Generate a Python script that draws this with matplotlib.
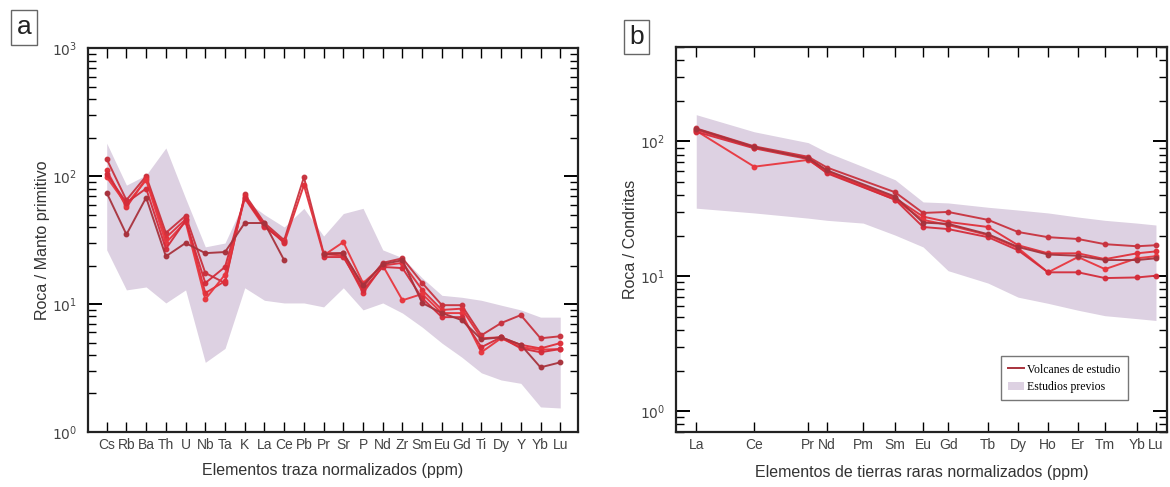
import numpy as np
import matplotlib
matplotlib.use("Agg")
import matplotlib.pyplot as plt
from matplotlib.lines import Line2D
from matplotlib.patches import Patch

plt.rcParams['font.family'] = ['Liberation Sans', 'DejaVu Sans']

# ---------------------------------------------------------------
# Panel a: elementos traza (normalizado a manto primitivo)
# ---------------------------------------------------------------
trace_el = ['Cs', 'Rb', 'Ba', 'Th', 'U', 'Nb', 'Ta', 'K', 'La', 'Ce', 'Pb', 'Pr',
            'Sr', 'P', 'Nd', 'Zr', 'Sm', 'Eu', 'Gd', 'Ti', 'Dy', 'Y', 'Yb', 'Lu']
nan = np.nan
trace_s1 = [136, 65, 100, 36, 49, 17.5, 14.6, 72, 43, 31.6, 98, 25, 25, 13.6, 21, 22.8,
            14.6, 9.8, 9.8, 5.7, 7.1, 8.2, 5.4, 5.6]
trace_s2 = [111, 57, 96, 33, 46, 12.2, 15.1, 70, 41.5, 30, 85, 24.5, 24, 12.2, 20, 21,
            12.9, 9.0, 9.2, 5.4, 5.5, 4.8, 4.5, 4.95]
trace_s3 = [98, 60, 93, 30, 44, 10.9, 17, 67, 40, 31, nan, 24, 30.5, 14.6, 20, 10.7,
            12.0, 8.5, 8.5, 4.2, 5.4, 4.6, 4.4, 4.45]
trace_s4 = [104, 62, 80, 27, 45, 14.6, 19.5, 68, 41, 30.5, nan, 23.3, 23.3, 12.9, 19.5, 19.1,
            11.1, 7.9, 7.9, 4.6, 5.5, 4.5, 4.2, 4.45]
trace_s5 = [74, 35, 68, 23.6, 30, 25, 25.5, 43, 43, 22, nan, 24.5, 25, 14, 20.5, 22,
            10.2, 8.5, 7.5, 5.3, 5.5, 4.8, 3.2, 3.5]
trace_env_hi = [181, 85, 102, 166, 67, 28, 30, 65, 50, 40, 56, 34, 51, 56, 26.5, 23,
                16, 11.7, 11.3, 10.7, 9.8, 9.0, 7.9, 7.9]
trace_env_lo = [26.5, 12.9, 13.6, 10.2, 12.9, 3.5, 4.5, 13.4, 10.7, 10.2, 10.2, 9.5,
                13.4, 9.0, 10.2, 8.5, 6.6, 4.95, 3.85, 2.9, 2.55, 2.4, 1.57, 1.54]

# ---------------------------------------------------------------
# Panel b: tierras raras (normalizado a condritas)
# ---------------------------------------------------------------
ree_el = ['La', 'Ce', 'Pr', 'Nd', 'Pm', 'Sm', 'Eu', 'Gd', 'Tb', 'Dy', 'Ho', 'Er', 'Tm', 'Yb', 'Lu']
ree_pos = [0, 5.8, 11.2, 13.1, 16.7, 19.9, 22.7, 25.2, 29.2, 32.2, 35.2, 38.2, 40.9, 44.1, 46.0]
ree_s1 = [125, 92, 77, 64, nan, 42, 29.5, 30, 26.2, 21.3, 19.5, 18.9, 17.3, 16.7, 17]
ree_s2 = [122, 90, 76, 60, nan, 38, 27.7, 25.3, 23.2, 17, 14.8, 14.8, 13.4, 14.8, 15.3]
ree_s3 = [120, 65, 73, 59, nan, 37, 26.2, 24, 20.2, 16.2, 10.7, 13.9, 11.3, 13.6, 14.1]
ree_s4 = [118, 89, 74, 58, nan, 37, 23.2, 22.4, 19.5, 15.6, 10.7, 10.7, 9.7, 9.8, 10.1]
ree_s5 = [124, 91, 75, 61, nan, 39, 25, 24.5, 20.5, 16.5, 14.5, 14.2, 13.2, 13.2, 13.6]
ree_env_hi = [158, 118, 98, 83, 65, 52, 35.6, 35, 32.5, 31, 29.5, 27.5, 26, 24.8, 24]
ree_env_lo = [32, 29.5, 27, 26, 24.8, 20.2, 16.5, 11, 8.9, 7, 6.3, 5.6, 5.1, 4.85, 4.7]

line_colors = ['#c8323e', '#e0303a', '#e8363e', '#d42c3a', '#a8323c']
env_color = '#ddd1e2'
tick_col = '#444444'


def style_axis(ax, xpos, labels, xlim, ylim):
    ax.set_yscale('log')
    ax.set_xlim(*xlim)
    ax.set_ylim(*ylim)
    ax.set_xticks(xpos)
    ax.set_xticklabels(labels, fontsize=10, color=tick_col)
    ax.tick_params(axis='x', which='both', direction='in', top=True, bottom=True,
                   length=7, width=1.0, pad=4)
    ax.tick_params(axis='y', which='major', direction='in', left=True, right=True,
                   length=10, width=1.4, labelsize=10, labelcolor=tick_col, pad=8)
    ax.tick_params(axis='y', which='minor', direction='in', left=True, right=True,
                   length=6, width=1.0)
    for s in ax.spines.values():
        s.set_linewidth(1.6)
        s.set_color('#222222')


fig = plt.figure(figsize=(11.7, 4.87), dpi=100)

# ---- panel a ----
ax1 = fig.add_axes([0.0752, 0.113, 0.4188, 0.788])
xa = np.arange(len(trace_el))
ax1.fill_between(xa, trace_env_lo, trace_env_hi, color=env_color, lw=0, zorder=1)
for vals, c in zip([trace_s1, trace_s2, trace_s3, trace_s4, trace_s5], line_colors):
    ax1.plot(xa, vals, color=c, lw=1.4, marker='o', ms=3.2, mec=c, mfc=c, zorder=3, alpha=0.95)
style_axis(ax1, xa, trace_el, (-0.95, 23.9), (1, 1000))
ax1.set_yticks([1, 10, 100, 1000])
ax1.set_yticklabels([r'$10^{0}$', r'$10^{1}$', r'$10^{2}$', r'$10^{3}$'])
ax1.set_ylabel('Roca / Manto primitivo', fontsize=11.5, color='#333333', labelpad=1)
ax1.set_xlabel('Elementos traza normalizados (ppm)', fontsize=11.5, color='#333333', labelpad=8)

# ---- panel b ----
ax2 = fig.add_axes([0.578, 0.113, 0.4194, 0.790])
ax2.fill_between(ree_pos, ree_env_lo, ree_env_hi, color=env_color, lw=0, zorder=1)
xb = np.array(ree_pos)
for vals, c in zip([ree_s1, ree_s2, ree_s3, ree_s4, ree_s5], line_colors):
    v = np.array(vals, dtype=float)
    m = ~np.isnan(v)
    ax2.plot(xb[m], v[m], color=c, lw=1.4, marker='o', ms=3.2, mec=c, mfc=c, zorder=3, alpha=0.95)
style_axis(ax2, ree_pos, ree_el, (-2.0, 47.1), (0.7, 500))
ax2.set_yticks([1, 10, 100])
ax2.set_yticklabels([r'$10^{0}$', r'$10^{1}$', r'$10^{2}$'])
ax2.set_ylabel('Roca / Condritas', fontsize=11.5, color='#333333', labelpad=1)
ax2.set_xlabel('Elementos de tierras raras normalizados (ppm)', fontsize=11.5, color='#333333',
               labelpad=10)

handles = [Line2D([0], [0], color='#a8323c', lw=1.4),
           Patch(facecolor=env_color, edgecolor='none')]
leg = ax2.legend(handles, ['Volcanes de estudio', 'Estudios previos'], loc='lower right',
                 bbox_to_anchor=(0.932, 0.068), frameon=True, fancybox=False,
                 prop={'family': 'Liberation Serif', 'size': 8.5},
                 handlelength=1.3, handletextpad=0.3, borderpad=0.6, labelspacing=0.45)
leg.get_frame().set_edgecolor('#555555')
leg.get_frame().set_linewidth(1.0)

# panel letters
fig.text(0.0205, 0.944, 'a', fontsize=19, ha='center', va='center', color='#222222',
         bbox=dict(boxstyle='square,pad=0.2', fc='white', ec='#666666', lw=1.0))
fig.text(0.5440, 0.924, 'b', fontsize=19, ha='center', va='center', color='#222222',
         bbox=dict(boxstyle='square,pad=0.2', fc='white', ec='#666666', lw=1.0))

fig.savefig('out.png', dpi=100)
